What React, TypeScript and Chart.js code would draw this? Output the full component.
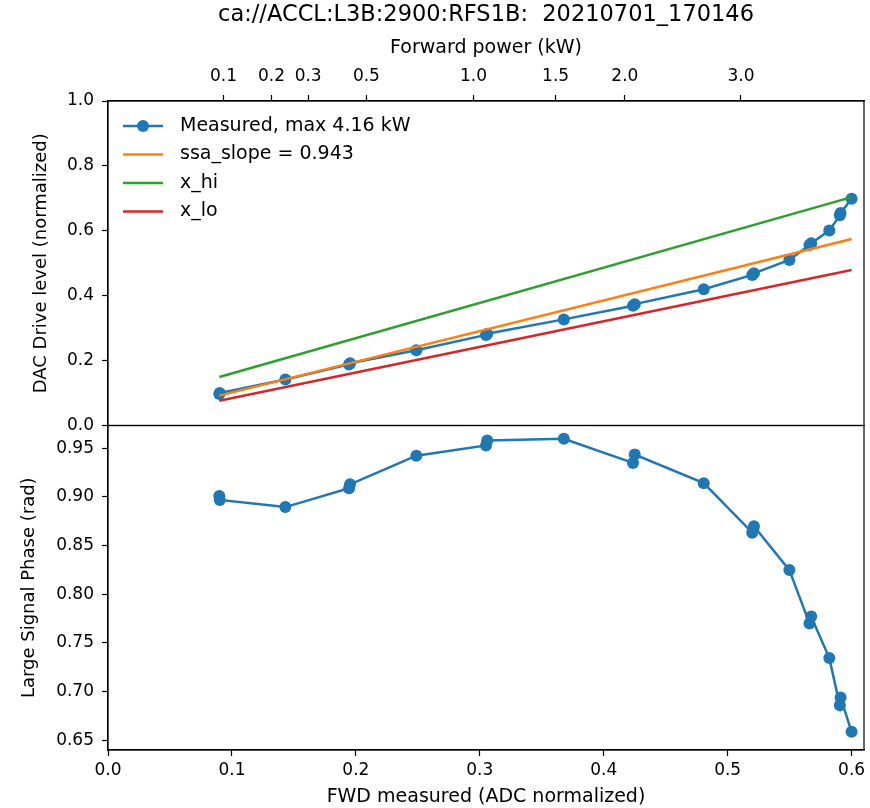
import React, { useEffect, useRef } from 'react';
import { Chart, registerables } from 'chart.js';

Chart.register(...registerables);

// ---- data ----
const FWD = [0.0898, 0.0902, 0.1431, 0.1945, 0.1953, 0.2488, 0.3050, 0.3060, 0.3678, 0.4236, 0.4250, 0.4807, 0.5198, 0.5212, 0.5498, 0.5660, 0.5674, 0.5820, 0.5905, 0.5911, 0.6000];
const DAC = [0.097, 0.100, 0.1415, 0.188, 0.192, 0.232, 0.279, 0.283, 0.327, 0.369, 0.374, 0.420, 0.464, 0.469, 0.510, 0.556, 0.562, 0.6006, 0.648, 0.655, 0.699];
const PHASE = [0.901, 0.897, 0.8896, 0.909, 0.913, 0.9425, 0.953, 0.958, 0.9599, 0.935, 0.9436, 0.9142, 0.8633, 0.870, 0.8248, 0.770, 0.777, 0.7343, 0.6858, 0.6937, 0.6585];

const FIT_X = [0.0898, 0.6000];
const SSA_Y = [0.092, 0.575];
const XHI_Y = [0.1496, 0.7037];
const XLO_Y = [0.0765, 0.479];

const X_TICKS = [0.0, 0.1, 0.2, 0.3, 0.4, 0.5, 0.6];
const DAC_TICKS = [0.0, 0.2, 0.4, 0.6, 0.8, 1.0];
const PHASE_TICKS = [0.65, 0.70, 0.75, 0.80, 0.85, 0.90, 0.95];
const POWER_TICKS = [0.1, 0.2, 0.3, 0.5, 1.0, 1.5, 2.0, 3.0];
const POWER_LABELS = ['0.1', '0.2', '0.3', '0.5', '1.0', '1.5', '2.0', '3.0'];
const KW_PER_FWD2 = 11.5; // forward power (kW) = K * fwd^2

const X_MIN = 0;
const X_MAX = 0.61;
const DAC_MIN = 0;
const DAC_MAX = 1;
const PHASE_MIN = 0.6398;
const PHASE_MAX = 0.9735;

const BLUE = '#1f77b4';
const ORANGE = '#ff7f0e';
const GREEN = '#2ca02c';
const RED = '#d62728';

const pts = (xs: number[], ys: number[]) => xs.map((x, i) => ({ x, y: ys[i] }));

const framePlugin = {
  id: 'frame',
  afterDraw(chart: any) {
    const { ctx, chartArea } = chart;
    ctx.save();
    ctx.strokeStyle = '#000';
    ctx.lineWidth = 1.2;
    for (const id of ['yTop', 'yBot']) {
      const s = chart.scales[id];
      ctx.strokeRect(chartArea.left, s.top, chartArea.right - chartArea.left, s.bottom - s.top);
    }
    ctx.restore();
  },
};

const legendPlugin = {
  id: 'inlineLegend',
  afterDatasetsDraw(chart: any) {
    const { ctx, chartArea } = chart;
    const items = chart.data.datasets.filter((d: any) => d.inLegend);
    ctx.save();
    items.forEach((d: any, i: number) => {
      const y = chartArea.top + 25 + i * 28.5;
      const x0 = chartArea.left + 15;
      ctx.strokeStyle = d.borderColor;
      ctx.lineWidth = 2.5;
      ctx.beginPath();
      ctx.moveTo(x0, y);
      ctx.lineTo(x0 + 40, y);
      ctx.stroke();
      if (d.pointRadius > 0) {
        ctx.fillStyle = d.backgroundColor;
        ctx.beginPath();
        ctx.arc(x0 + 20, y, 6, 0, Math.PI * 2);
        ctx.fill();
      }
      ctx.fillStyle = '#000';
      ctx.font = '19px "DejaVu Sans"';
      ctx.textBaseline = 'middle';
      ctx.textAlign = 'left';
      ctx.fillText(d.label, x0 + 57, y);
    });
    ctx.restore();
  },
};

const tickFont = { family: 'DejaVu Sans', size: 17 };
const xTitleFont = { family: 'DejaVu Sans', size: 19 };
const yTitleFont = { family: 'DejaVu Sans', size: 18 };
const gridOpts = { drawOnChartArea: false, drawTicks: true, tickLength: 6, tickColor: '#000', tickWidth: 1.2 };
const borderOpts = { display: true, color: '#000', width: 1.2 };

export default function App() {
  const ref = useRef<HTMLCanvasElement>(null);

  useEffect(() => {
    Chart.defaults.font.family = 'DejaVu Sans';
    Chart.defaults.color = '#000';
    const chart = new Chart(ref.current as HTMLCanvasElement, {
      type: 'scatter',
      data: {
        datasets: [
          {
            label: 'Measured, max 4.16 kW',
            data: pts(FWD, DAC),
            showLine: true,
            borderColor: BLUE,
            backgroundColor: BLUE,
            borderWidth: 2.5,
            pointRadius: 6,
            pointBorderWidth: 0,
            pointHoverRadius: 6,
            xAxisID: 'x',
            yAxisID: 'yTop',
            order: 4,
            inLegend: true,
          } as any,
          {
            label: 'ssa_slope = 0.943',
            data: pts(FIT_X, SSA_Y),
            showLine: true,
            borderColor: ORANGE,
            backgroundColor: ORANGE,
            borderWidth: 2.5,
            pointRadius: 0,
            xAxisID: 'x',
            yAxisID: 'yTop',
            order: 3,
            inLegend: true,
          } as any,
          {
            label: 'x_hi',
            data: pts(FIT_X, XHI_Y),
            showLine: true,
            borderColor: GREEN,
            backgroundColor: GREEN,
            borderWidth: 2.5,
            pointRadius: 0,
            xAxisID: 'x',
            yAxisID: 'yTop',
            order: 2,
            inLegend: true,
          } as any,
          {
            label: 'x_lo',
            data: pts(FIT_X, XLO_Y),
            showLine: true,
            borderColor: RED,
            backgroundColor: RED,
            borderWidth: 2.5,
            pointRadius: 0,
            xAxisID: 'x',
            yAxisID: 'yTop',
            order: 1,
            inLegend: true,
          } as any,
          {
            label: 'Large Signal Phase',
            data: pts(FWD, PHASE),
            showLine: true,
            borderColor: BLUE,
            backgroundColor: BLUE,
            borderWidth: 2.5,
            pointRadius: 6,
            pointBorderWidth: 0,
            pointHoverRadius: 6,
            xAxisID: 'x',
            yAxisID: 'yBot',
            order: 5,
          } as any,
        ],
      },
      options: {
        responsive: false,
        animation: false,
        events: [],
        layout: { padding: { left: 0, right: 3, top: 0, bottom: 0 } },
        plugins: {
          legend: { display: false },
          tooltip: { enabled: false },
          title: {
            display: true,
            text: 'ca://ACCL:L3B:2900:RFS1B:  20210701_170146',
            font: { family: 'DejaVu Sans', size: 22.5, weight: 'normal' },
            color: '#000',
            padding: { top: 1.5, bottom: 0 },
            fullSize: false,
          },
        },
        scales: {
          x: {
            type: 'linear',
            position: 'bottom',
            min: X_MIN,
            max: X_MAX,
            afterBuildTicks: (s: any) => {
              s.ticks = X_TICKS.map((v) => ({ value: v }));
            },
            afterFit: (s: any) => {
              s.height = 58;
            },
            ticks: {
              callback: (v: any) => Number(v).toFixed(1),
              font: tickFont,
              color: '#000',
              padding: 4,
              maxRotation: 0,
              autoSkip: false,
            },
            grid: gridOpts,
            border: borderOpts,
            title: {
              display: true,
              text: 'FWD measured (ADC normalized)',
              font: xTitleFont,
              color: '#000',
              padding: { top: 0, bottom: 0 },
            },
          },
          x2: {
            type: 'linear',
            position: 'top',
            min: X_MIN,
            max: X_MAX,
            afterBuildTicks: (s: any) => {
              s.ticks = POWER_TICKS.map((p) => ({ value: Math.sqrt(p / KW_PER_FWD2) }));
            },
            afterFit: (s: any) => {
              s.height = 72.5;
            },
            ticks: {
              callback: (_v: any, i: number) => POWER_LABELS[i],
              font: tickFont,
              color: '#000',
              padding: 8,
              maxRotation: 0,
              autoSkip: false,
            },
            grid: gridOpts,
            border: borderOpts,
            title: {
              display: true,
              text: 'Forward power (kW)',
              font: xTitleFont,
              color: '#000',
              padding: { top: 8, bottom: 0 },
            },
          },
          yTop: {
            type: 'linear',
            position: 'left',
            stack: 'panels',
            stackWeight: 1,
            weight: 2,
            min: DAC_MIN,
            max: DAC_MAX,
            afterBuildTicks: (s: any) => {
              s.ticks = DAC_TICKS.map((v) => ({ value: v }));
            },
            afterFit: (s: any) => {
              s.width = 108;
            },
            ticks: {
              callback: (v: any) => Number(v).toFixed(1),
              font: tickFont,
              color: '#000',
              padding: 8,
              autoSkip: false,
            },
            grid: gridOpts,
            border: borderOpts,
            title: {
              display: true,
              text: 'DAC Drive level (normalized)',
              font: yTitleFont,
              color: '#000',
              padding: { top: 31, bottom: 0 },
            },
          },
          yBot: {
            type: 'linear',
            position: 'left',
            stack: 'panels',
            stackWeight: 1,
            weight: 1,
            min: PHASE_MIN,
            max: PHASE_MAX,
            afterBuildTicks: (s: any) => {
              s.ticks = PHASE_TICKS.map((v) => ({ value: v }));
            },
            afterFit: (s: any) => {
              s.width = 108;
            },
            ticks: {
              callback: (v: any) => Number(v).toFixed(2),
              font: tickFont,
              color: '#000',
              padding: 8,
              autoSkip: false,
            },
            grid: gridOpts,
            border: borderOpts,
            title: {
              display: true,
              text: 'Large Signal Phase (rad)',
              font: yTitleFont,
              color: '#000',
              padding: { top: 19, bottom: 0 },
            },
          },
        },
      } as any,
      plugins: [framePlugin, legendPlugin],
    });
    return () => chart.destroy();
  }, []);

  return (
    <div style={{ position: 'absolute', left: 0, top: 0, width: 870, height: 808, background: '#fff' }}>
      <canvas ref={ref} width={870} height={808} style={{ display: 'block', width: 870, height: 808 }} />
    </div>
  );
}
